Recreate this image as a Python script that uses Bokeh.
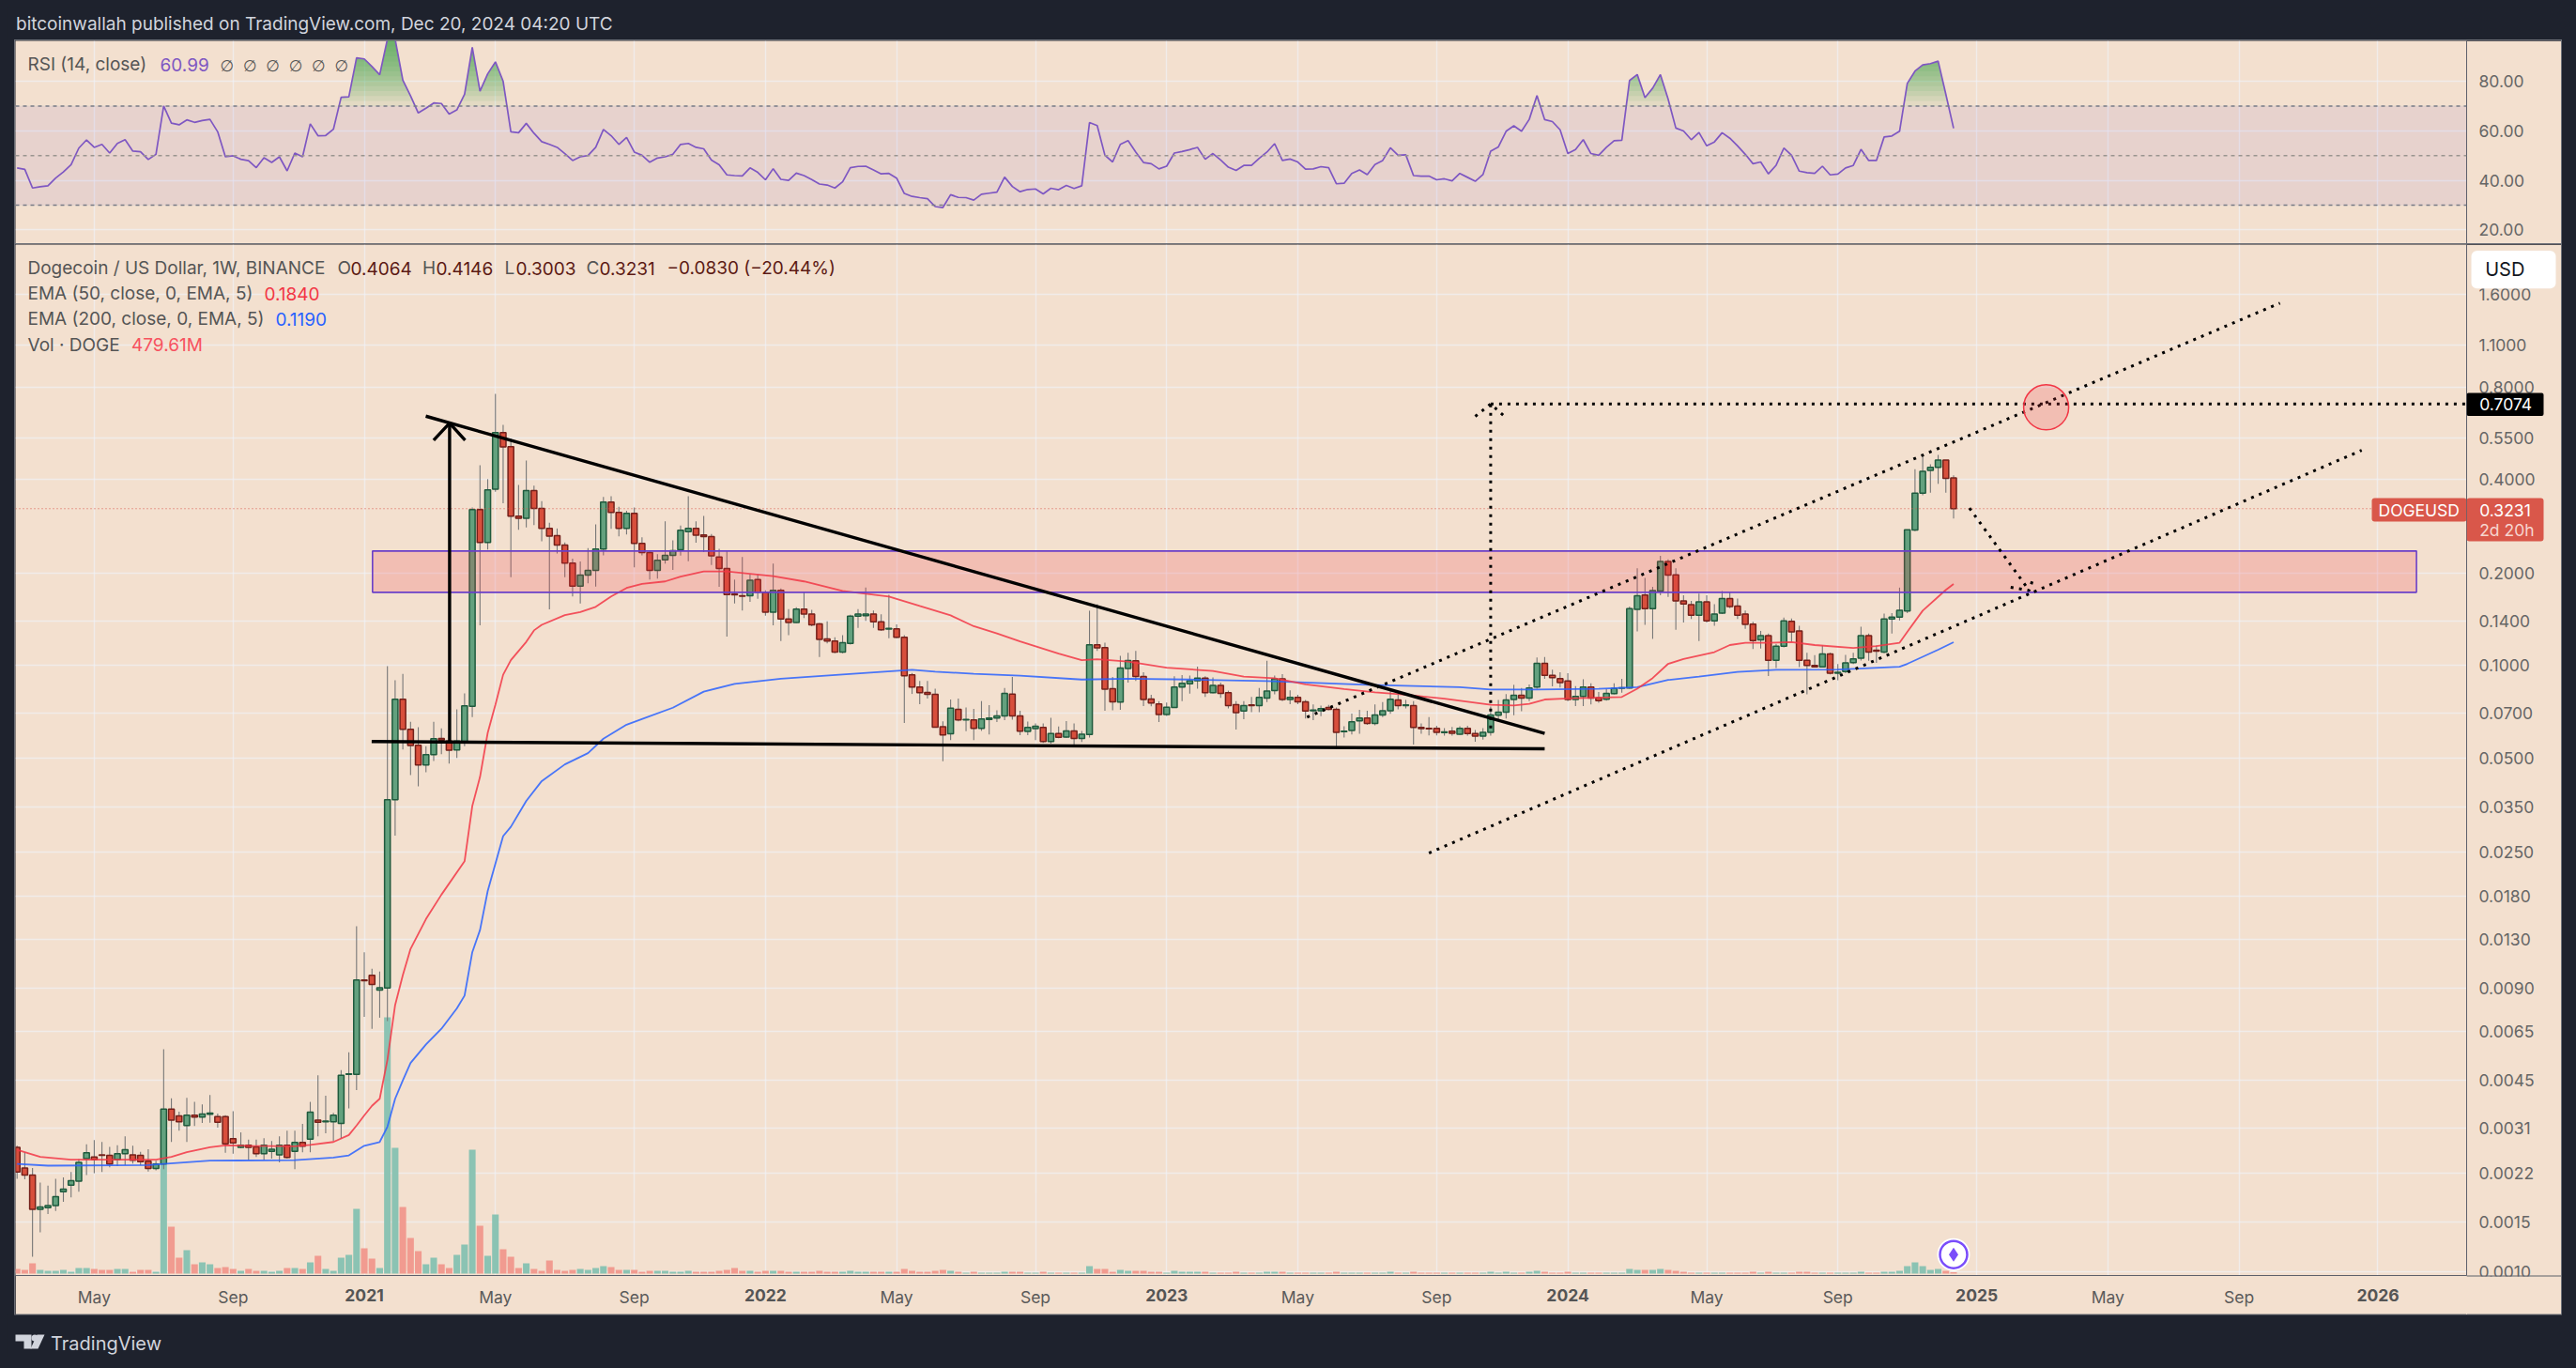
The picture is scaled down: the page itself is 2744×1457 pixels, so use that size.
import numpy as np
from bokeh.embed import file_html
from bokeh.layouts import column
from bokeh.models import BoxAnnotation, Div, FixedTicker, Label, LinearScale, Range1d, Span
from bokeh.plotting import figure
from bokeh.resources import INLINE

# ---------------------------------------------------------------- data
MONTH_BARS = [10, 28, 62, 80, 114, 132, 166, 184, 219, 236, 271, 288]
MONTH_LABELS = ["May", "Sep", "May", "Sep", "May", "Sep", "May", "Sep", "May", "Sep", "May", "Sep"]
YEAR_BARS = [45, 97, 149, 201, 254, 306]
YEAR_LABELS = ["2021", "2022", "2023", "2024", "2025", "2026"]

PRICE_TICK_LABELS = ["1.6000", "1.1000", "0.8000", "0.5500", "0.4000", "0.2000", "0.1400", "0.1000", "0.0700",
                     "0.0500", "0.0350", "0.0250", "0.0180", "0.0130", "0.0090", "0.0065", "0.0045", "0.0031",
                     "0.0022", "0.0015", "0.0010"]
PRICE_TICK_LEVELS = [1.61, 1.099, 0.803, 0.55, 0.402, 0.2, 0.1396, 0.1, 0.0698, 0.04995, 0.0347, 0.0248, 0.01784,
                     0.01287, 0.00896, 0.00649, 0.00449, 0.00313, 0.002235, 0.001555, 0.001074]
RSI_TICKS = [80, 60, 40, 20]

OPEN = [
 .00272,.00233,.00221,.00171,.00173,.00176,.00195,.00205,.00211,.00250,
 .00253,.00257,.00256,.00248,.00259,.00257,.00256,.00245,.00232,.00240,
 .00362,.00344,.00320,.00346,.00341,.00348,.00342,.00342,.00290,.00272,
 .00276,.00273,.00259,.00264,.00257,.00276,.00264,.00282,.00289,.00333,
 .00329,.00329,.00325,.00469,.00469,.0095,.00985,.00882,.00896,.0366,
 .0776,.0620,.0550,.0475,.0513,.0579,.0568,.0531,.0564,.0737,
 .3210,.2511,.3740,.5710,.5135,.3056,.3005,.3700,.3235,.2786,
 .2640,.2460,.2150,.1810,.1965,.2035,.2390,.3395,.3140,.2786,
 .3120,.2490,.2325,.2035,.2205,.2280,.2375,.2720,.2786,.2655,
 .2620,.2250,.2065,.1705,.1685,.1685,.1900,.1730,.1490,.1755,
 .1415,.1380,.1525,.1470,.1365,.1220,.1200,.1105,.1180,.1445,
 .1450,.1470,.1385,.1312,.1315,.1235,.0932,.0850,.0817,.0806,
 .0632,.0600,.0720,.0665,.0665,.0625,.0668,.0675,.0685,.0807,
 .0685,.0610,.0623,.0629,.0566,.0601,.0585,.0613,.0579,.0597,
 .1168,.1143,.0840,.0760,.0977,.1035,.0920,.0778,.0750,.0693,
 .0730,.0850,.0872,.0892,.0910,.0815,.0862,.0815,.0746,.0711,
 .0744,.0740,.0783,.0828,.0905,.0775,.0788,.0761,.0712,.0712,
 .0730,.0720,.0609,.0615,.0661,.0675,.0648,.0690,.0712,.0772,
 .0740,.0741,.0629,.0625,.0625,.0605,.0612,.0598,.0625,.0601,
 .0589,.0606,.0689,.0705,.0775,.0800,.0783,.0850,.1015,.0928,
 .0906,.0890,.0775,.0793,.0850,.0785,.0776,.0810,.0843,.0845,
 .1520,.1694,.1530,.1745,.2175,.1970,.1620,.1575,.1455,.1610,
 .1395,.1480,.1650,.1558,.1470,.1362,.1210,.1250,.1040,.1155,
 .1390,.1295,.1040,.1000,.0990,.1090,.0944,.0955,.1022,.1055,
 .1250,.1120,.1105,.1415,.1435,.1502,.2755,.3630,.4300,.4400,.4650,.4064]
HIGH = [
 .00275,.00262,.00233,.00209,.00204,.00215,.00217,.00226,.00249,.00278,
 .00287,.00283,.00273,.00276,.00295,.00275,.00263,.00268,.00246,.00566,
 .00392,.00355,.00394,.00382,.00375,.00402,.00350,.00346,.00356,.00304,
 .00288,.00288,.00291,.00285,.00295,.00308,.00308,.00324,.00382,.00466,
 .00400,.00352,.00484,.00554,.0142,.0117,.01035,.01013,.0995,.0895,
 .0938,.0656,.0630,.0547,.0656,.0625,.0597,.0720,.0811,.3260,
 .4470,.4030,.7627,.6050,.5459,.3856,.4632,.3841,.3419,.2910,
 .2786,.2511,.2225,.2175,.2407,.2875,.3525,.3545,.3280,.3180,
 .3260,.2610,.2355,.2300,.2940,.2550,.2850,.3545,.2940,.3060,
 .2675,.2395,.2355,.1900,.2250,.1975,.1975,.1755,.2142,.1780,
 .1525,.1545,.1730,.1515,.1375,.1390,.1235,.1255,.1460,.1525,
 .1790,.1508,.1465,.1695,.1360,.1255,.0945,.0890,.0890,.0840,
 .0658,.0775,.0780,.0730,.0722,.0766,.0743,.0715,.0845,.0917,
 .0713,.0657,.0648,.0648,.0676,.0633,.0660,.0648,.0613,.1506,
 .1580,.1185,.0917,.1075,.1100,.1115,.0950,.0803,.0765,.0758,
 .0922,.0931,.0927,.0992,.0922,.0915,.0880,.0828,.0765,.0765,
 .0790,.0845,.1035,.0927,.0937,.0830,.0803,.0773,.0747,.0740,
 .0744,.0730,.0634,.0697,.0717,.0712,.0747,.0760,.0830,.0815,
 .0773,.0765,.0648,.0680,.0637,.0626,.0631,.0634,.0637,.0617,
 .0626,.0735,.0773,.0807,.0865,.0845,.0867,.1061,.1065,.0968,
 .0950,.0944,.0857,.0902,.0875,.0820,.0840,.0875,.0905,.1553,
 .2070,.1925,.1800,.2270,.2210,.2070,.1690,.1620,.1710,.1690,
 .1580,.1745,.1730,.1650,.1507,.1385,.1295,.1270,.1175,.1430,
 .1420,.1345,.1100,.1080,.1160,.1100,.1010,.1082,.1100,.1335,
 .1270,.1160,.1475,.1480,.1790,.2760,.4340,.4800,.4500,.4835,.4650,.4146]
LOW = [
 .00215,.00214,.00120,.00144,.00165,.00169,.00181,.00187,.00195,.00221,
 .00224,.00226,.00234,.00236,.00238,.00241,.00238,.00227,.00229,.00231,
 .00283,.00308,.00283,.00319,.00326,.00327,.00315,.00261,.00259,.00270,
 .00247,.00253,.00247,.00250,.00243,.00250,.00231,.00262,.00262,.00295,
 .00302,.00285,.00291,.00364,.00417,.00722,.00660,.00717,.00699,.0280,
 .0533,.0440,.0405,.0450,.0489,.0515,.0480,.0501,.0547,.0680,
 .1349,.2380,.3665,.3365,.1936,.2760,.2810,.2860,.2530,.1520,
 .2310,.1936,.1675,.1590,.1850,.1805,.2280,.2780,.2625,.2665,
 .2085,.2280,.1900,.1915,.2142,.2045,.2275,.2180,.2505,.2335,
 .2120,.1800,.1240,.1590,.1508,.1610,.1645,.1450,.1350,.1200,
 .1255,.1375,.1425,.1341,.1065,.1180,.1095,.1095,.1170,.1325,
 .1395,.1325,.1295,.1225,.1225,.0650,.0808,.0748,.0780,.0628,
 .0488,.0572,.0658,.0612,.0572,.0613,.0597,.0655,.0664,.0667,
 .0594,.0594,.0572,.0560,.0557,.0580,.0581,.0544,.0564,.0583,
 .1115,.0713,.0715,.0717,.0880,.0890,.0738,.0736,.0655,.0686,
 .0728,.0766,.0810,.0840,.0790,.0812,.0785,.0725,.0619,.0669,
 .0705,.0705,.0760,.0805,.0765,.0748,.0748,.0672,.0664,.0684,
 .0715,.0537,.0583,.0597,.0600,.0641,.0639,.0679,.0696,.0720,
 .0725,.0553,.0600,.0593,.0593,.0591,.0591,.0595,.0591,.0565,
 .0574,.0591,.0664,.0672,.0689,.0710,.0766,.0840,.0905,.0855,
 .0848,.0766,.0738,.0738,.0747,.0756,.0768,.0805,.0815,.0840,
 .1290,.1355,.1220,.1690,.1670,.1305,.1380,.1415,.1200,.1380,
 .1345,.1470,.1535,.1415,.1315,.1130,.1135,.0924,.0980,.1145,
 .1193,.0988,.0805,.0985,.0985,.0935,.0895,.0944,.1010,.1037,
 .1035,.1020,.1095,.1270,.1400,.1480,.2730,.3570,.3640,.3890,.3640,.3003]
CLOSE = [
 .00226,.00221,.00171,.00174,.00176,.00188,.00199,.00212,.00243,.00261,
 .00248,.00256,.00240,.00259,.00267,.00247,.00244,.00232,.00240,.00362,
 .00333,.00329,.00346,.00341,.00349,.00351,.00328,.00279,.00281,.00276,
 .00272,.00259,.00276,.00268,.00276,.00252,.00282,.00274,.00354,.00328,
 .00331,.00346,.00466,.00471,.0095,.00945,.0092,.00897,.0366,.0776,
 .0620,.0549,.0475,.0513,.0578,.0572,.0530,.0568,.0739,.3210,
 .2511,.3718,.5710,.5124,.3056,.3005,.3700,.3235,.2786,.2630,
 .2460,.2150,.1810,.1965,.2035,.2390,.3395,.3140,.2786,.3120,
 .2490,.2325,.2035,.2195,.2280,.2360,.2750,.2786,.2650,.2620,
 .2270,.2065,.1700,.1695,.1680,.1890,.1730,.1490,.1755,.1415,
 .1380,.1525,.1470,.1355,.1215,.1200,.1105,.1185,.1445,.1470,
 .1470,.1385,.1305,.1320,.1235,.0925,.0850,.0815,.0805,.0630,
 .0595,.0726,.0665,.0668,.0625,.0670,.0675,.0685,.0812,.0685,
 .0612,.0629,.0634,.0566,.0601,.0584,.0613,.0579,.0598,.1168,
 .1141,.0838,.0761,.0980,.1037,.0920,.0775,.0755,.0693,.0732,
 .0851,.0875,.0892,.0910,.0815,.0862,.0812,.0740,.0703,.0741,
 .0740,.0788,.0825,.0905,.0775,.0788,.0762,.0711,.0716,.0724,
 .0720,.0606,.0612,.0656,.0675,.0648,.0690,.0712,.0777,.0741,
 .0744,.0629,.0623,.0622,.0606,.0608,.0602,.0625,.0601,.0589,
 .0606,.0690,.0705,.0772,.0800,.0783,.0845,.1015,.0928,.0912,
 .0880,.0775,.0793,.0850,.0783,.0768,.0811,.0842,.0847,.1530,
 .1683,.1530,.1750,.2175,.1965,.1620,.1585,.1455,.1610,.1395,
 .1470,.1650,.1555,.1455,.1360,.1205,.1250,.1040,.1155,.1395,
 .1285,.1040,.1000,.0990,.1090,.0944,.0950,.1020,.1050,.1250,
 .1105,.1112,.1415,.1435,.1510,.2760,.3630,.4275,.4400,.4650,.4050,.3231]
VOLUME_BN = [
 1.6,1.28,3.52,1.28,.96,.96,1.28,.64,1.92,1.92,
 1.6,1.28,1.28,1.6,1.6,.64,1.28,1.28,.64,37.12,
 16,5.44,8,3.2,3.84,3.2,1.92,2.24,1.6,.96,
 1.6,.96,.96,.64,.96,1.92,1.92,1.6,3.84,6.08,
 1.6,.96,5.44,6.4,22.08,8.64,5.12,1.92,87.36,42.88,
 22.72,12.16,7.68,3.2,5.44,3.2,1.92,6.4,9.92,42.24,
 16.32,6.08,20.16,8.32,5.76,1.92,3.52,1.6,.96,4.48,
 1.28,.96,1.28,1.6,1.28,1.92,2.56,2.24,1.28,1.28,
 1.28,.64,.96,.96,.96,.64,.64,.96,.64,.64,
 .64,.96,1.28,1.92,.96,.96,.64,.96,.96,.96,
 .64,.64,.64,.64,.96,.64,.64,.64,.96,.64,
 .64,.64,.64,.64,.64,1.6,.96,.64,.64,.96,
 1.28,.96,.64,.32,.64,.32,.32,.32,.64,.64,
 .64,.32,.32,.64,.32,.32,.32,.32,.32,2.56,
 1.6,1.6,.64,1.28,.96,.96,.96,.64,.64,.32,
 .96,.64,.64,.64,.64,.32,.32,.32,.64,.32,
 .32,.32,.64,.64,.64,.32,.32,.32,.32,.32,
 .32,.64,.32,.32,.32,.32,.32,.32,.64,.32,
 .32,.64,.32,.32,.32,.32,.32,.32,.32,.32,
 .32,.64,.32,.64,.32,.32,.64,.96,.64,.32,
 .32,.64,.32,.32,.32,.32,.32,.32,.32,1.6,
 1.28,1.28,1.28,1.6,1.28,.96,.64,.32,.32,.32,
 .32,.32,.32,.32,.32,.64,.32,.64,.32,.32,
 .32,.64,.64,.32,.32,.32,.32,.32,.32,.64,
 .32,.32,.64,.64,.96,2.56,3.84,2.56,1.28,1.6,.96,.48]
RSI = [
 45,44.4,36.9,37.4,37.8,40.9,43.4,46.3,53,56.3,
 53.3,54.5,51,54.9,56.4,51.8,51.5,48.4,50.5,70,
 63.1,62.4,64.4,63.4,64.1,64.6,59.6,49.5,49.9,48.5,
 47.9,45.1,49.1,47.2,49.5,43.8,51,49.5,62.8,58,
 58.1,60.6,73.5,73.7,89.4,89,85.9,82.6,97,97,
 80.4,74.1,67.2,69.1,71.2,71,66.7,68.4,74.7,93.7,
 76,83,87.8,80,59.6,59.2,63,59,55.6,54.5,
 53.3,50.8,48,49.5,50,53.3,60.5,58,54.5,57.3,
 51.4,50.1,47.3,49,49.5,50.5,54.5,54.9,53.3,52.7,
 48.2,46.3,42.2,41.9,41.8,45,43.2,40.2,44.7,40.4,
 40,42.9,41.9,40.3,38.5,38.1,36.9,39.4,45.1,45.6,
 45.7,44.2,42.6,42.8,40.9,34.7,33.5,33,32.6,29.4,
 29,34.2,33.1,33,32,34.4,34.8,35.2,41.3,37.5,
 35.4,36.3,36.5,34.5,36.8,36.2,37.9,36.7,37.8,63.3,
 62.1,50.1,47.4,54.5,56,51.4,47.2,46.7,44.6,45.7,
 51,51.6,52.4,53.3,48.5,50.8,48.2,45.3,44,46,
 46,48.9,51.4,54.8,48,48.6,47.4,44.5,44.6,45.5,
 45.1,38.6,38.8,42.8,44.2,42.3,46.4,48,53.1,50.1,
 50.3,41.9,41.7,41.7,40.2,40.6,39.8,42.8,41.2,39.6,
 42.3,51.8,53.5,59.8,62,59.8,64.6,74.2,64.5,63.7,
 60.4,50.8,52.4,56.4,50.8,50.1,53.3,56,56.2,80.3,
 82.7,73.4,77.2,82.7,72.8,61.1,59.9,56.4,59.3,53.9,
 55.5,59.2,57,53.9,50.5,46.7,47.4,42.6,46.1,53,
 50.1,43.7,43.1,42.8,45.7,42.2,42.5,45,46,52.5,
 48,48,57.5,57.9,59.8,79.1,84.1,86.6,87.1,88.1,74.7,60.99]

EMA50_BAR = [0,3,7,12,18,20,22,25,27,30,36,38,41,43,44,45,46,47,48,49,50,51,53,55,58,59,60,61,62,63,64,66,67,68,71,
             73,75,77,79,81,84,86,89,92,95,98,102,107,113,117,121,124,127,130,135,138,140,144,149,155,159,163,167,
             172,176,180,185,191,194,196,198,201,208,210,212,214,216,220,222,224,227,230,233,238,241,244,245,247,250,251]
EMA50 = [.00267,.00253,.00248,.00248,.00248,.00253,.00262,.00272,.00276,.00275,.00274,.00277,.00283,.00298,.00320,
         .00345,.00371,.00391,.00523,.00788,.00986,.0120,.0150,.0180,.0231,.0349,.0434,.0604,.0746,.0933,.1040,.1193,
         .1300,.1355,.1457,.1490,.1550,.1675,.1785,.1840,.1875,.1945,.2020,.2020,.1985,.1950,.1875,.1745,.1675,.1560,
         .1455,.1341,.1271,.1197,.1092,.1040,.1047,.1030,.0983,.0960,.0920,.0909,.0868,.0838,.0818,.0804,.0780,.0745,
         .0741,.0750,.0775,.0781,.0790,.0840,.0910,.1012,.1050,.1105,.1165,.1185,.1185,.1190,.1165,.1140,.1155,.1185,
         .1285,.1507,.1760,.1840]
EMA200_BAR = [0,4,17,19,25,36,41,43,45,47,48,49,50,51,53,55,57,58,59,60,61,63,64,66,68,71,74,76,79,85,89,93,99,107,
              116,119,124,130,138,144,152,162,175,187,191,197,205,210,214,218,223,228,236,244,245,249,251]
EMA200 = [.00240,.00237,.00238,.00240,.00246,.00247,.00252,.00256,.00275,.00283,.00317,.00391,.00449,.00511,.00587,
          .00660,.00769,.00846,.0117,.01381,.0185,.0279,.0299,.0363,.0421,.0477,.0519,.0578,.0642,.0729,.0822,.0871,
          .0906,.0935,.0968,.0954,.0940,.0926,.0900,.0906,.0900,.0890,.0865,.0850,.0835,.0835,.0840,.0850,.0897,.0920,
          .0953,.0968,.0970,.0990,.1012,.1125,.1190]

LAST_PRICE = 0.3231
TARGET_PRICE = 0.7074
ZONE_BARS = (46.07, 311.0)
ZONE_PRICES = (0.1728, 0.2354)
TRENDLINE_BARS, TRENDLINE_PRICES = [52.97, 198.0], [0.6455, 0.0601]
SUPPORT_BARS, SUPPORT_PRICES = [45.96, 198.0], [0.0566, 0.0536]
RISE_BARS, RISE_PRICES = [56.06, 56.06], [0.0567, 0.6132]
RISE_HEAD_BARS, RISE_HEAD_PRICES = [53.99, 56.06, 58.07], [0.5393, 0.6132, 0.5393]
UPPER_BARS, UPPER_PRICES = [167.2, 293.3], [0.0679, 1.504]
LOWER_BARS, LOWER_PRICES = [183.0, 303.9], [0.02458, 0.5]
TARGET_BARS, TARGET_PRICES = [191.0, 191.0], [0.0625, TARGET_PRICE]
TARGET_HEAD_BARS, TARGET_HEAD_PRICES = [189.0, 191.0, 192.8], [0.6442, TARGET_PRICE, 0.6442]
DROP_BARS, DROP_PRICES = [253.06, 260.8], [0.3243, 0.1753]
DROP_HEAD_BARS, DROP_HEAD_PRICES = [258.4, 260.8, 261.4], [0.1794, 0.1753, 0.1947]
CIRCLE_BAR, CIRCLE_PRICE = 263.0, 0.6896

# ---------------------------------------------------------------- style
DARK = "#1e222d"
BG = "#f3e0cf"
GRID = "#f0f3fa"
AXIS_LINE = "#5d606b"
EDGE = "#6d7078"
FONT = "Inter"
XR = (-0.207, 317.5)
bars = np.arange(len(CLOSE))
o, h, l, c = map(np.array, (OPEN, HIGH, LOW, CLOSE))
up = c >= o


def text(fig, s, x, y, color, size, left, top, style="normal", font=FONT, align="left"):
    fig.add_layout(Label(x=x - left, y=y - top, x_units="canvas", y_units="canvas", text=s, text_color=color,
                         text_font=font, text_font_size=f"{size}px", text_font_style=style,
                         text_baseline="middle", text_align=align))


def box(fig, x0, x1, y0, y1, color, left, top, radius=0, line=None):
    fig.add_layout(BoxAnnotation(left=x0 - left, right=x1 - left, top=y0 - top, bottom=y1 - top,
                                 left_units="canvas", right_units="canvas", top_units="canvas", bottom_units="canvas",
                                 fill_color=color, fill_alpha=1, line_color=line, border_radius=radius))


def style_pane(p):
    p.background_fill_color = BG
    p.border_fill_color = BG
    p.outline_line_color = None
    p.min_border_left = 0
    p.min_border_top = 0
    p.min_border_right = 101
    p.xgrid.ticker = FixedTicker(ticks=sorted(MONTH_BARS + YEAR_BARS))
    p.xgrid.grid_line_color = GRID
    p.xgrid.grid_line_alpha = 0.6
    p.xgrid.grid_line_width = 1.5
    p.ygrid.grid_line_color = GRID
    p.ygrid.grid_line_alpha = 0.6
    p.ygrid.grid_line_width = 1.5
    ax = p.yaxis[0]
    ax.axis_line_color = AXIS_LINE
    ax.major_tick_line_color = None
    ax.minor_tick_line_color = None
    ax.major_tick_in = 0
    ax.major_tick_out = 0
    ax.major_label_standoff = 13
    ax.major_label_text_font = FONT
    ax.major_label_text_font_size = "17.5px"
    ax.major_label_text_color = "#666666"


def layer(width, margin):
    f = figure(width=width, height=1140, x_range=(0, 1), y_range=(0, 1), x_axis_type=None, y_axis_type=None,
               toolbar_location=None, output_backend="svg", min_border=0, margin=margin, frame_align=False,
               styles={"position": "relative", "z-index": "20"})
    f.background_fill_color = None
    f.border_fill_color = None
    f.outline_line_color = None
    f.grid.visible = False
    return f


# ---------------------------------------------------------------- header
head = figure(width=2728, height=35, x_range=(0, 1), y_range=(0, 1), x_axis_type=None, y_axis_type=None,
              toolbar_location=None, output_backend="svg", min_border=0, margin=(0, 0, 0, 0), frame_align=False)
head.background_fill_color = DARK
head.border_fill_color = DARK
head.outline_line_color = None
head.grid.visible = False
text(head, "bitcoinwallah published on TradingView.com, Dec 20, 2024 04:20 UTC", 16.5, 25, "#d1d4dc", 19, 8, 8)

# ---------------------------------------------------------------- RSI pane
rsi = figure(width=2712, height=216, x_range=Range1d(*XR), y_range=Range1d(14.43, 96.3), y_axis_location="right",
             toolbar_location=None, output_backend="svg", x_axis_location=None, margin=(0, 0, 0, 8), min_border_bottom=0,
             styles={"box-shadow": f"0 0 0 1px {EDGE}"})
style_pane(rsi)
rsi.yaxis.ticker = FixedTicker(ticks=RSI_TICKS)
rsi.yaxis.formatter.use_scientific = False
rsi.yaxis.major_label_overrides = {v: f"{v:.2f}" for v in RSI_TICKS}
rsi.ygrid.ticker = FixedTicker(ticks=RSI_TICKS)
rsi.add_layout(BoxAnnotation(bottom=30, top=70, fill_color="#7e57c2", fill_alpha=0.1, level="underlay"))
for lvl, col in ((70, "#787b86"), (50, "#9a9590"), (30, "#787b86")):
    rsi.add_layout(Span(location=lvl, dimension="width", line_color=col, line_dash="4 4", line_width=1.5))
fine_x = np.arange(0, bars[-1] + 0.01, 0.05)
fine_y = np.interp(fine_x, bars, RSI)
for lev in range(70, 96, 2):
    top_y = np.maximum(fine_y, lev)
    rsi.varea(fine_x, y1=lev, y2=top_y, fill_color="#3f9d45", fill_alpha=0.085, level="glyph")
rsi.line(bars, RSI, line_color="#7e57c2", line_width=1.7)
text(rsi, "RSI (14, close)", 29, 68, "#555555", 19, 16, 43)
text(rsi, "60.99", 170, 68, "#7e57c2", 19, 16, 43)
for k in range(6):
    text(rsi, "\u2205", 234 + 24.4 * k, 69, "#555555", 17, 16, 43, font="DejaVu Sans")

divider = Div(text="", width=2712, height=1, margin=(0, 0, 0, 8), styles={"background-color": "#33343a"})

# ---------------------------------------------------------------- main pane
main = figure(width=2712, height=1140, x_range=Range1d(*XR), y_range=Range1d(0.001042, 2.33), y_axis_type="log",
              y_axis_location="right", toolbar_location=None, output_backend="svg", margin=(0, 0, 0, 8),
              min_border_bottom=42, styles={"box-shadow": f"0 0 0 1px {EDGE}"})
style_pane(main)
main.yaxis.ticker = FixedTicker(ticks=PRICE_TICK_LEVELS)
main.yaxis.major_label_overrides = dict(zip(PRICE_TICK_LEVELS, PRICE_TICK_LABELS))
main.ygrid.ticker = FixedTicker(ticks=PRICE_TICK_LEVELS)
xa = main.xaxis[0]
xa.ticker = FixedTicker(ticks=MONTH_BARS)
xa.major_label_overrides = dict(zip(MONTH_BARS, MONTH_LABELS))
xa.axis_line_color = AXIS_LINE
xa.major_tick_line_color = None
xa.minor_tick_line_color = None
xa.major_tick_in = 0
xa.major_tick_out = 0
xa.major_label_standoff = 12
xa.major_label_text_font = FONT
xa.major_label_text_font_size = "17.5px"
xa.major_label_text_color = "#5a5a5a"

main.extra_y_ranges = {"volume": Range1d(-0.64, 350.72)}
main.extra_y_scales = {"volume": LinearScale()}
vol_col = np.where(up, "#8bc3b3", "#f19b90").tolist()
main.vbar(x=bars, top=VOLUME_BN, bottom=0, width=0.86, y_range_name="volume", fill_color=vol_col, line_color=None)

main.segment(bars, h, bars, l, line_color="#777777", line_width=1.1)
body_col = np.where(up, "#63a17e", "#d84f3c").tolist()
edge_col = np.where(up, "#1f5a3d", "#74201a").tolist()
main.vbar(x=bars, bottom=np.minimum(o, c), top=np.maximum(o, c), width=0.74, fill_color=body_col, line_color=edge_col,
          line_width=1.5)

main.line(list(XR), [LAST_PRICE, LAST_PRICE], line_color="#d9574a", line_width=1, line_dash="1 3")
main.line(EMA200_BAR, EMA200, line_color="#2962ff", line_width=1.8, alpha=0.85)
main.line(EMA50_BAR, EMA50, line_color="#f23645", line_width=1.8, alpha=0.85)

main.quad(left=ZONE_BARS[0], right=ZONE_BARS[1], bottom=ZONE_PRICES[0], top=ZONE_PRICES[1], fill_color="#f23645",
          fill_alpha=0.2, line_color="#6a3fc8", line_width=1.6)
for xs, ys in ((TRENDLINE_BARS, TRENDLINE_PRICES), (SUPPORT_BARS, SUPPORT_PRICES), (RISE_BARS, RISE_PRICES),
               (RISE_HEAD_BARS, RISE_HEAD_PRICES)):
    main.line(xs, ys, line_color="black", line_width=3.4)
for xs, ys in ((UPPER_BARS, UPPER_PRICES), (LOWER_BARS, LOWER_PRICES), (TARGET_BARS, TARGET_PRICES),
               (TARGET_HEAD_BARS, TARGET_HEAD_PRICES), (DROP_BARS, DROP_PRICES), (DROP_HEAD_BARS, DROP_HEAD_PRICES),
               ([TARGET_BARS[0], XR[1]], [TARGET_PRICE, TARGET_PRICE])):
    main.line(xs, ys, line_color="black", line_width=3, line_dash="3 6")
main.scatter([CIRCLE_BAR], [CIRCLE_PRICE], size=48, marker="circle", fill_color="#f23645", fill_alpha=0.2,
             line_color="#f23645", line_width=1.5)

# assistant badge on the last bar
main.scatter([251], [6.5], size=35, marker="circle", fill_color="white", line_color=None, y_range_name="volume")
main.scatter([251], [6.5], size=29, marker="circle", fill_color="white", line_color="#7a4dfa", line_width=2.5,
             y_range_name="volume")
main.scatter([251], [6.5], size=15, marker="diamond", fill_color="#7a4dfa", line_color=None, y_range_name="volume")

L0, T0 = 16, 260
text(main, "Dogecoin / US Dollar, 1W, BINANCE", 29, 285, "#555555", 19, L0, T0)
for lab, val, xl, xv in (("O", "0.4064", 359, 373), ("H", "0.4146", 449.5, 464), ("L", "0.3003", 537, 549),
                         ("C", "0.3231", 624, 638)):
    text(main, lab, xl, 285, "#555555", 19, L0, T0)
    text(main, val, xv, 285, "#5c1a14", 19, L0, T0)
text(main, "\u22120.0830 (\u221220.44%)", 710, 285, "#5c1a14", 19, L0, T0)
text(main, "EMA (50, close, 0, EMA, 5)", 29, 312, "#555555", 19, L0, T0)
text(main, "0.1840", 281, 312, "#f23645", 19, L0, T0)
text(main, "EMA (200, close, 0, EMA, 5)", 29, 339, "#555555", 19, L0, T0)
text(main, "0.1190", 293, 339, "#2962ff", 19, L0, T0)
text(main, "Vol \u00b7 DOGE", 29, 367, "#555555", 19, L0, T0)
text(main, "479.61M", 139.5, 367, "#f7525f", 19, L0, T0)

# ---------------------------------------------------------------- transparent layers over the pane's side panels
over = layer(2611, (-1140, 0, 0, 8))
x_scale_px = (2627 - 16) / (XR[1] - XR[0])
for b, lab in zip(YEAR_BARS, YEAR_LABELS):
    text(over, lab, 16 + (b - XR[0]) * x_scale_px, 1379, "#555555", 17.5, L0, T0, style="bold", align="center")
box(over, 16, 2627, 1399, 1400, EDGE, L0, T0)
box(over, 2526, 2627, 530, 555, "#d9574a", L0, T0, radius=3)
text(over, "DOGEUSD", 2533, 542.5, "#ffffff", 17.5, L0, T0)

L1 = 2627
side = layer(101, (-1140, 0, 0, L1 - 8))
box(side, 2627, 2728, 1359, 1372, BG, L1, T0)
box(side, 2627, 2728, 1358, 1359, AXIS_LINE, L1, T0)
box(side, 2627, 2728, 1399, 1400, EDGE, L1, T0)
box(side, 2632, 2722, 266.5, 306.7, "#ffffff", L1, T0, radius=6, line="#f6efe9")
text(side, "USD", 2646.7, 286.5, "#131722", 20, L1, T0)
box(side, 2627, 2709, 418, 442.4, "#000000", L1, T0, radius=2)
text(side, "0.7074", 2640.7, 430.4, "#ffffff", 17.5, L1, T0)
box(side, 2627, 2709, 530, 576, "#d9574a", L1, T0, radius=3)
text(side, "0.3231", 2640.7, 542.5, "#ffffff", 17.5, L1, T0)
text(side, "2d 20h", 2640.7, 564, "#f6d5cf", 17.5, L1, T0)

# ---------------------------------------------------------------- footer
foot = figure(width=2728, height=45, x_range=Range1d(8, 2736), y_range=Range1d(1445, 1400), x_axis_type=None,
              y_axis_type=None, toolbar_location=None, output_backend="svg", min_border=0, margin=(0, 0, 0, 0),
              frame_align=False)
foot.background_fill_color = DARK
foot.border_fill_color = DARK
foot.outline_line_color = None
foot.grid.visible = False
foot.patch([16, 33, 33, 25, 25, 16], [1421, 1421, 1436, 1436, 1428, 1428], fill_color="#d1d4dc", line_color=None)
foot.scatter([36.5], [1424.5], size=7, marker="circle", fill_color="#d1d4dc", line_color=None)
foot.patch([39, 47, 40, 32], [1421, 1421, 1436, 1436], fill_color="#d1d4dc", line_color=None)
text(foot, "TradingView", 53.5, 1430, "#d1d4dc", 20, 8, 1400)

page = column(head, rsi, divider, main, over, side, foot, spacing=0, margin=(0, 0, 0, 0))
html = file_html(page, INLINE)
html = html.replace("<body>", f'<body style="background:{DARK};margin:8px">')
open("out.html", "w").write(html)
